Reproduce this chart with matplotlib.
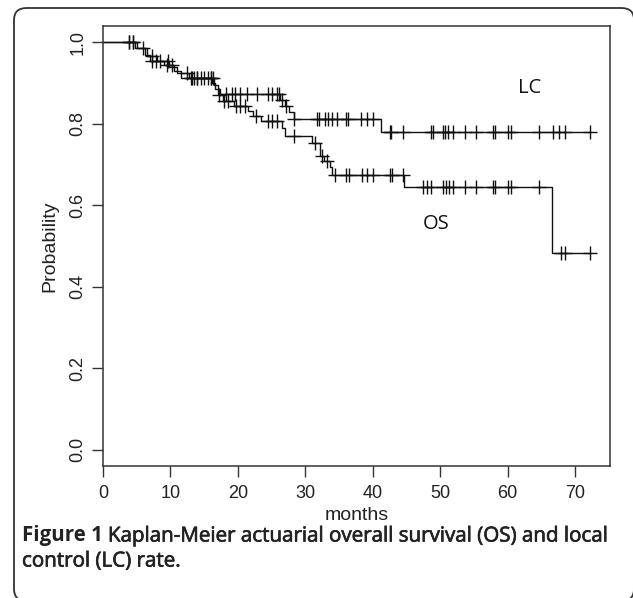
import numpy as np
import matplotlib.pyplot as plt
import matplotlib.patheffects as pe
from matplotlib.patches import FancyBboxPatch

plt.rcParams['font.family'] = ['Liberation Sans', 'DejaVu Sans']

# step times (months) and survival level after each step
lc_times = [0, 4.8, 6.2, 7.0, 9.0, 10.5, 11.5, 16.2, 16.6, 17.4, 26.3, 27.0, 27.6, 28.3, 41.3]
lc_surv = [1.0, 0.985, 0.970, 0.955, 0.945, 0.930, 0.913, 0.900, 0.886, 0.872, 0.858, 0.843, 0.828, 0.8125, 0.78]
lc_censor = [3.8, 4.4, 7.3, 7.8, 9.5, 10.2, 13.0, 13.5, 14.0, 14.5, 15.0, 15.5, 16.0,
             18.3, 19.1, 19.6, 20.3, 21.3, 22.8, 24.5, 25.0, 25.8, 26.1, 26.6, 27.2, 28.4,
             31.7, 32.0, 32.9, 33.4, 33.9, 34.7, 36.0, 36.4, 38.2, 39.1, 40.1,
             42.5, 42.7, 44.5, 48.7, 49.0, 50.5, 50.8, 51.2, 51.9, 53.7, 55.3, 57.9, 58.1,
             60.1, 60.5, 64.7, 66.7, 67.6, 68.5, 72.2]

os_times = [0, 5.0, 6.6, 8.0, 9.8, 11.0, 12.8, 16.5, 17.0, 17.8, 19.5, 21.5, 22.3, 23.5,
            26.5, 27.0, 31.0, 32.2, 32.8, 33.6, 34.0, 44.6, 66.6]
os_surv = [1.0, 0.985, 0.967, 0.955, 0.940, 0.925, 0.912, 0.895, 0.870, 0.856, 0.843, 0.831,
           0.819, 0.807, 0.79, 0.771, 0.753, 0.72, 0.708, 0.695, 0.675, 0.644, 0.483]
os_censor = [3.8, 4.4, 6.0, 7.2, 8.5, 9.7, 12.5, 13.2, 14.0, 16.0, 16.3, 17.2, 18.0, 18.5,
             19.8, 20.3, 21.0, 22.7, 24.5, 25.0, 25.8, 28.4, 31.5, 32.5, 33.2,
             34.4, 36.1, 36.5, 38.4, 39.1, 40.1, 42.5, 42.8, 44.5,
             47.5, 48.0, 48.6, 50.5, 50.9, 51.3, 51.9, 53.7, 55.3, 57.9, 58.2, 60.1, 60.5,
             64.7, 67.9, 68.5, 72.2]
end_time = 72.2

fig = plt.figure(figsize=(6.33, 5.98), dpi=100)
ax = fig.add_axes([103/633, 1-466/598, 507/633, 440/598])

def km(times, surv, censor, color='#111111'):
    t = np.array(times + [end_time])
    s = np.array(surv + [surv[-1]])
    ax.step(t, s, where='post', color=color, lw=1.0)
    idx = np.searchsorted(np.array(times), censor, side='right') - 1
    ax.plot(censor, np.array(surv)[idx], ls='none', marker='+', ms=9.5, mew=1.0, color=color)

km(lc_times, lc_surv, lc_censor)
km(os_times, os_surv, os_censor)

ax.text(63.3, 0.889, 'LC', fontsize=14.5, family=['Open Sans', 'DejaVu Sans'],
        ha='center', va='center', color='#111111')
ax.text(49.4, 0.553, 'OS', fontsize=14.5, family=['Open Sans', 'DejaVu Sans'],
        ha='center', va='center', color='#111111')

ax.set_xlim(0, 75.2)
ax.set_ylim(-0.04, 1.04)
ax.set_xticks(range(0, 71, 10))
ax.set_yticks([0.0, 0.2, 0.4, 0.6, 0.8, 1.0])
ax.set_yticklabels(['0.0', '0.2', '0.4', '0.6', '0.8', '1.0'], rotation=90, va='center')
ax.tick_params(length=8, width=1, color='#333333', labelsize=13, labelcolor='#222222')
ax.tick_params(axis='x', pad=6)
ax.tick_params(axis='y', pad=4)
for sp in ax.spines.values():
    sp.set_color('#333333')
    sp.set_linewidth(1.1)
ax.set_xlabel('months', fontsize=14, labelpad=3, color='#222222')
ax.set_ylabel('Probability', fontsize=14, labelpad=8, color='#222222')

# caption
thick = [pe.withStroke(linewidth=0.5, foreground='#222222')]
cap = dict(fontsize=14.8, family=['Open Sans', 'DejaVu Sans'], color='#222222', va='center')
t1 = fig.text(22/633, 1-536/598, 'Figure 1', fontweight='bold', **cap)
fig.canvas.draw()
bb = t1.get_window_extent()
fig.text(bb.x1/633 + 0.008, 1-536/598,
         'Kaplan-Meier actuarial overall survival (OS) and local',
         path_effects=thick, **cap)
fig.text(22/633, 1-561/598, 'control (LC) rate.', path_effects=thick, **cap)

# rounded figure frame, right and bottom edges run off the picture
frame = FancyBboxPatch((14/633, 1-601/598), 620/633, 593/598,
                       boxstyle='round,pad=0,rounding_size=0.02',
                       transform=fig.transFigure, fill=False, lw=1.3, ec='#333333', clip_on=False)
fig.patches.append(frame)

fig.savefig('out.png', dpi=100)
